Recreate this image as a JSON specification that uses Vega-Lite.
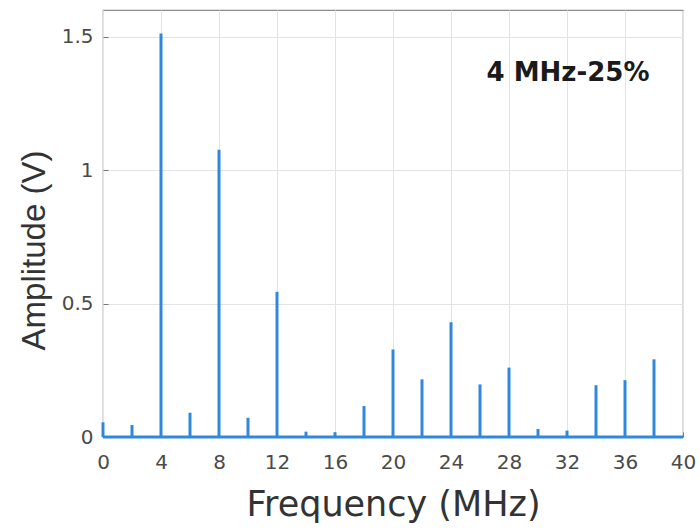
{
  "$schema": "https://vega.github.io/schema/vega-lite/v6.json",
  "width": 580,
  "height": 427,
  "autosize": {"type": "none"},
  "padding": {"left": 103, "top": 10, "right": 17, "bottom": 95},
  "background": "white",
  "config": {
    "font": "Liberation Sans",
    "view": {"stroke": "#8a8a8a", "strokeWidth": 1.2}
  },
  "data": {
    "values": [
      {"frequency": 0, "amplitude": 0.055},
      {"frequency": 2, "amplitude": 0.045},
      {"frequency": 4, "amplitude": 1.512},
      {"frequency": 6, "amplitude": 0.091},
      {"frequency": 8, "amplitude": 1.076},
      {"frequency": 10, "amplitude": 0.072},
      {"frequency": 12, "amplitude": 0.544},
      {"frequency": 14, "amplitude": 0.02},
      {"frequency": 16, "amplitude": 0.018},
      {"frequency": 18, "amplitude": 0.116},
      {"frequency": 20, "amplitude": 0.328},
      {"frequency": 22, "amplitude": 0.216},
      {"frequency": 24, "amplitude": 0.43},
      {"frequency": 26, "amplitude": 0.197},
      {"frequency": 28, "amplitude": 0.26},
      {"frequency": 30, "amplitude": 0.03},
      {"frequency": 32, "amplitude": 0.024},
      {"frequency": 34, "amplitude": 0.194},
      {"frequency": 36, "amplitude": 0.213},
      {"frequency": 38, "amplitude": 0.291}
    ]
  },
  "layer": [
    {
      "mark": {"type": "rule", "color": "#3088de", "strokeWidth": 3},
      "encoding": {
        "x": {
          "field": "frequency",
          "type": "quantitative",
          "scale": {"domain": [0, 40], "nice": false, "zero": false},
          "axis": {
            "values": [0, 4, 8, 12, 16, 20, 24, 28, 32, 36, 40],
            "title": "Frequency (MHz)",
            "titleFont": "DejaVu Sans",
            "titleFontSize": 35,
            "titleFontWeight": "normal",
            "titleColor": "#333333",
            "titlePadding": 15,
            "labelFont": "DejaVu Sans",
            "labelFontSize": 20,
            "labelColor": "#4a4a4a",
            "labelPadding": 20,
            "labelFlush": false,
            "domain": false,
            "tickSize": -5,
            "tickColor": "#777777",
            "grid": true,
            "gridColor": "#e3e3e3",
            "gridWidth": 1
          }
        },
        "y": {
          "field": "amplitude",
          "type": "quantitative",
          "scale": {"domain": [0, 1.6], "nice": false},
          "axis": {
            "values": [0, 0.5, 1, 1.5],
            "format": "~g",
            "title": "Amplitude (V)",
            "titleFontSize": 33,
            "titleFontWeight": "normal",
            "titleColor": "#333333",
            "titlePadding": 10,
            "titleY": 240,
            "labelFont": "DejaVu Sans",
            "labelFontSize": 20,
            "labelColor": "#4a4a4a",
            "labelPadding": 15,
            "labelFlush": false,
            "domain": false,
            "tickSize": -5,
            "tickColor": "#777777",
            "grid": true,
            "gridColor": "#e3e3e3",
            "gridWidth": 1
          }
        },
        "y2": {"datum": 0}
      }
    },
    {
      "data": {"values": [{"level": 0}]},
      "mark": {"type": "rule", "color": "#3088de", "strokeWidth": 3},
      "encoding": {"y": {"field": "level", "type": "quantitative"}}
    },
    {
      "data": {"values": [{"label": "4 MHz-25%", "frequency": 32.07, "amplitude": 1.363}]},
      "mark": {"type": "text", "font": "DejaVu Sans", "fontSize": 26, "fontWeight": "bold", "color": "#1a1a1a", "align": "center", "baseline": "middle"},
      "encoding": {
        "x": {"field": "frequency", "type": "quantitative"},
        "y": {"field": "amplitude", "type": "quantitative"},
        "text": {"field": "label"}
      }
    }
  ]
}
